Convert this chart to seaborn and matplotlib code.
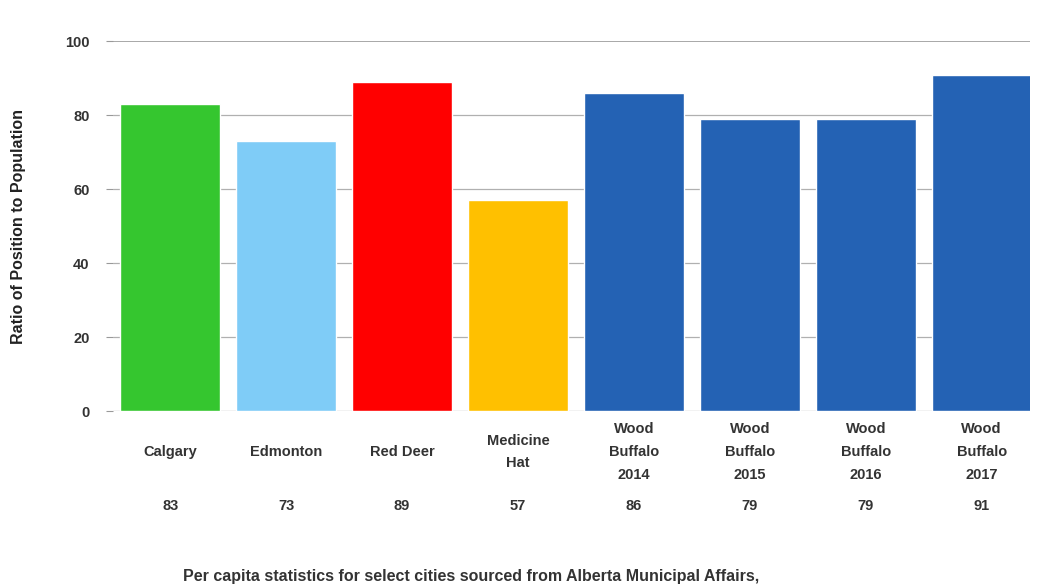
import matplotlib
matplotlib.use("Agg")
import matplotlib.pyplot as plt
import matplotlib.transforms as mtransforms
import seaborn as sns
import pandas as pd

categories = ["Calgary", "Edmonton", "Red Deer", "Medicine\nHat",
              "Wood\nBuffalo\n2014", "Wood\nBuffalo\n2015", "Wood\nBuffalo\n2016", "Wood\nBuffalo\n2017"]
values = [83, 73, 89, 57, 86, 79, 79, 91]
colors = ["#35C62F", "#7FCCF7", "#FF0000", "#FFC000",
          "#2462B4", "#2462B4", "#2462B4", "#2462B4"]
yticks = [0, 20, 40, 60, 80, 100]

sns.set_theme(style="white")
plt.rcParams['font.family'] = ['Liberation Sans', 'DejaVu Sans']

df = pd.DataFrame({"cat": categories, "val": values})
fig = plt.figure(figsize=(10.39, 5.86), dpi=100)
ax = fig.add_axes([0.109, 0.2986, 0.882, 0.631])

sns.barplot(data=df, x="cat", y="val", hue="cat", palette=colors,
            legend=False, width=0.863, saturation=1, ax=ax, zorder=3)

ax.set_ylim(0, 100)
ax.set_xlim(-0.492, 7.414)
ax.set_yticks(yticks)
ax.set_yticklabels([str(t) for t in yticks], fontsize=10.5, fontweight="bold", color="#333333")
for t in yticks:
    ax.axhline(t, color="#9a9a9a" if t in (0, 100) else "#b0b0b0", lw=1.2 if t == 100 else 0.9, zorder=1)
ax.tick_params(axis="y", length=5, width=0.8, color="#999999", left=True, pad=12)
for s in ax.spines.values():
    s.set_visible(False)
ax.set_xticks([])
ax.set_xlabel("")
ax.set_ylabel("Ratio of Position to Population", fontsize=11.5, fontweight="bold", color="#222222", labelpad=28)

trans = mtransforms.blended_transform_factory(ax.transData, ax.transAxes)
for i, (c, v) in enumerate(zip(categories, values)):
    ax.text(i, -41 / 370, c, transform=trans, ha="center", va="center",
            fontsize=10.5, fontweight="bold", color="#333333", linespacing=1.8)
    ax.text(i, -95 / 370, str(v), transform=trans, ha="center", va="center",
            fontsize=10.5, fontweight="bold", color="#333333")

fig.text(0.453, 1 - 576 / 586, "Per capita statistics for select cities sourced from Alberta Municipal Affairs,",
         ha="center", va="center", fontsize=11.5, fontweight="bold", color="#333333")

fig.savefig("out.png", dpi=100, facecolor="white")
